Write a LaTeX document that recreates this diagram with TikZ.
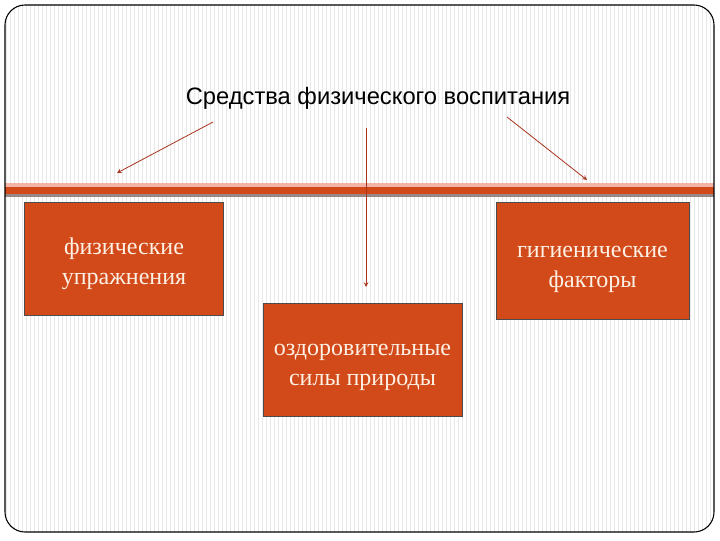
\documentclass[tikz,border=0pt]{standalone}
\usepackage{fontspec}
\setmainfont{Liberation Serif}
\newfontfamily\titlefont{Liberation Sans}
\usetikzlibrary{arrows}

\definecolor{boxred}{RGB}{210,74,26}
\definecolor{boxtext}{RGB}{253,240,228}
\definecolor{arrowred}{RGB}{168,52,30}
\definecolor{bandpink}{RGB}{242,178,164}
\definecolor{bandgray}{RGB}{150,136,132}
\definecolor{stripe}{RGB}{232,232,232}

\tikzset{
  meansbox/.style={draw=black!70, line width=0.5pt, fill=boxred,
    minimum width=149pt, minimum height=85pt, align=center,
    text=boxtext, font=\fontsize{18}{22.5}\selectfont},
  link/.style={->, >=stealth, arrowred, line width=0.6pt}
}

\begin{document}
\begin{tikzpicture}[x=0.75pt, y=-0.75pt]
  \useasboundingbox (0,0) rectangle (720,540);

  \begin{scope}
    \clip[rounded corners=15pt] (5,5) rectangle (714,532);
    \foreach \x in {6,10,...,714}{
      \draw[stripe, line width=0.4pt] (\x,5) -- (\x,532);
    }
    \fill[bandpink] (5,182.5) rectangle (714,186.5);
    \fill[boxred] (5,186.5) rectangle (714,194);
    \fill[bandgray] (5,194) rectangle (714,197);
  \end{scope}
  \draw[black, line width=0.8pt, rounded corners=15pt] (5,5) rectangle (714,532);

  \node[font=\titlefont\fontsize{17.8}{21}\selectfont] (title) at (378,98)
    {Средства физического воспитания};

  \node[meansbox] (exercise) at (124,258.5) {\rule{0pt}{1.15em}физические\\упражнения};
  \node[meansbox] (nature) at (362.5,359.5) {\rule{0pt}{1.15em}оздоровительные\\силы природы};
  \node[meansbox, minimum width=145pt, minimum height=88pt] (hygiene) at (592.5,261) {\rule{0pt}{1.15em}гигиенические\\факторы};

  \coordinate (l0) at (213,122);
  \coordinate (l1) at (117,173);
  \coordinate (m0) at (366,128);
  \coordinate (m1) at (366,287);
  \coordinate (r0) at (507,117);
  \coordinate (r1) at (587,180);

  \draw[link] (l0) -- (l1);
  \draw[link] (m0) -- (m1);
  \draw[link] (r0) -- (r1);
\end{tikzpicture}
\end{document}
